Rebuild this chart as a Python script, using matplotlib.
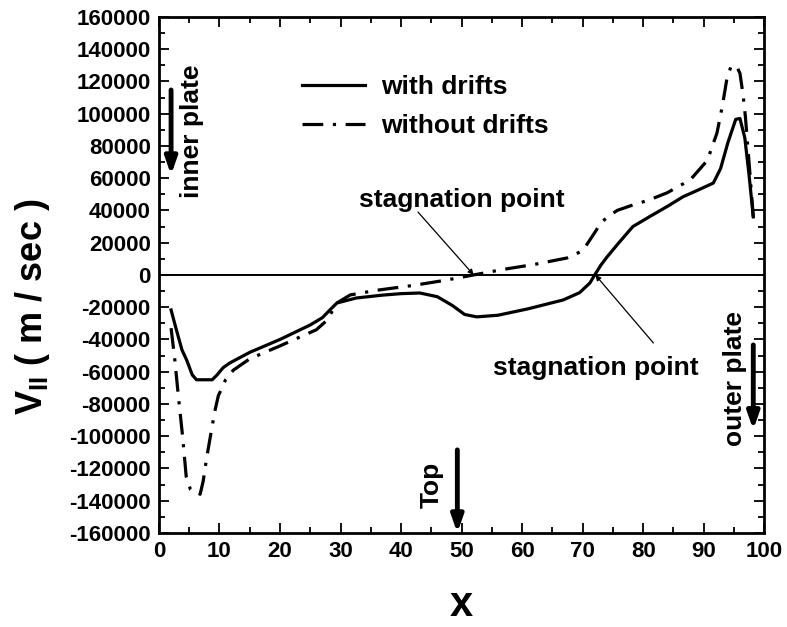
import matplotlib
matplotlib.use('Agg')
import matplotlib.pyplot as plt
import numpy as np
from matplotlib.ticker import MultipleLocator

plt.rcParams['font.family'] = ['Liberation Sans', 'DejaVu Sans']
plt.rcParams['font.weight'] = 'bold'
plt.rcParams['axes.unicode_minus'] = False
plt.rcParams['mathtext.fontset'] = 'custom'
plt.rcParams['mathtext.bf'] = 'Liberation Sans:bold'
plt.rcParams['mathtext.rm'] = 'Liberation Sans:bold'

# parallel velocity along the field line, with drifts
x_drift = [2.0, 2.8, 3.8, 4.6, 5.5, 6.2, 8.8, 9.6, 10.6, 11.7, 15, 20, 25, 27, 28.3, 29.4,
           32.6, 37, 40, 43.1, 46, 48.5, 50.5, 52.5, 56, 61, 66.8, 69.5, 71.2, 72, 73,
           74, 76, 78.3, 81, 84, 86.6, 89, 91.6, 92.8, 94, 95.3, 96, 96.8, 97.5, 98.2]
v_drift = [-21700, -33000, -46500, -53000, -62000, -65000, -65000, -62000, -57500, -54600,
           -48000, -40000, -31000, -26500, -21500, -17400, -14300, -12500, -11600, -11200,
           -13500, -19000, -24500, -26000, -25000, -21000, -15500, -11000, -5000, 0, 6000,
           11000, 20000, 30000, 36000, 42500, 48500, 52500, 57000, 66000, 82000, 96500,
           97000, 85000, 62000, 36000]

# same quantity without drifts
x_nodrift = [2.0, 2.6, 3.2, 3.9, 4.5, 5.2, 5.8, 6.3, 6.8, 7.3, 7.9, 8.5, 9.2, 9.8, 11,
             12.3, 15, 20, 26, 27.8, 29.4, 31.6, 36, 42, 47, 52, 57, 62, 67.4, 70, 71.2,
             72.3, 72.9, 74, 75.7, 78, 81, 84, 87.8, 90.6, 92.2, 93.1, 93.9, 94.5, 94.9,
             95.5, 96, 96.5, 96.9, 97.6, 98.2]
v_nodrift = [-33000, -52000, -75000, -100000, -125000, -133000, -135000, -135000, -136000,
             -128000, -113000, -100000, -85000, -75000, -65000, -59000, -52000, -44000,
             -34000, -28000, -17400, -12400, -9500, -6500, -3500, 0, 3500, 6500, 10500,
             15000, 21700, 28000, 32000, 35500, 40000, 43000, 46500, 51000, 59000, 71000,
             88000, 105000, 123000, 129000, 130000, 129000, 125000, 112000, 98000, 65000,
             36000]

fig = plt.figure(figsize=(7.87, 6.27), dpi=100)
ax = fig.add_axes([0.202, 0.150, 0.769, 0.823])

ax.plot(x_drift, v_drift, color='black', lw=2.3, label='with drifts')
ax.plot(x_nodrift, v_nodrift, color='black', lw=2.3,
        linestyle=(0, (6.5, 3, 1, 3)), label='without drifts')
ax.axhline(0, color='black', lw=1.4)

ax.set_xlim(0, 100)
ax.set_ylim(-160000, 160000)
ax.xaxis.set_major_locator(MultipleLocator(10))
ax.xaxis.set_minor_locator(MultipleLocator(5))
ax.yaxis.set_major_locator(MultipleLocator(20000))
ax.yaxis.set_minor_locator(MultipleLocator(10000))
ax.tick_params(which='both', direction='in', top=True, right=True, width=1.3)
ax.tick_params(which='major', length=7, labelsize=16, pad=6)
ax.tick_params(which='minor', length=4)
for lab in ax.get_xticklabels() + ax.get_yticklabels():
    lab.set_fontweight('bold')
for sp in ax.spines.values():
    sp.set_linewidth(2)

ax.set_xlabel('x', fontsize=30, fontweight='bold', labelpad=16)
fig.text(33 / 787, 1 - 307 / 627, r'V$_{\mathregular{II}}$ ( m / sec )', rotation=90,
         fontsize=26, fontweight='bold', ha='center', va='center')

leg = ax.legend(loc='upper left', bbox_to_anchor=(0.236, 0.887), frameon=False,
                fontsize=19, handlelength=2.4, labelspacing=0.55, borderpad=0,
                borderaxespad=0, handletextpad=0.6)
for t in leg.get_texts():
    t.set_fontweight('bold')

# stagnation point markers
thin = dict(arrowstyle='-|>', color='black', lw=0.9, shrinkA=0, shrinkB=0,
            mutation_scale=8)
ax.text(50.1, 46500, 'stagnation point', fontsize=19, fontweight='bold',
        ha='center', va='center')
ax.annotate('', xy=(52.0, 0), xytext=(42.8, 39000), arrowprops=thin)
ax.text(72.1, -57700, 'stagnation point', fontsize=19, fontweight='bold',
        ha='center', va='center')
ax.annotate('', xy=(72.1, 0), xytext=(81.7, -42200), arrowprops=thin)

# direction arrows toward plates and top
arrow_kw = dict(arrowstyle='-|>,head_width=0.35,head_length=1.0', color='black',
                lw=3.5, mutation_scale=10, shrinkA=0, shrinkB=0)
ax.annotate('', xy=(2, 62000), xytext=(2, 114700), arrowprops=arrow_kw)
ax.text(5.45, 89000, 'inner plate', rotation=90, fontsize=19, fontweight='bold',
        ha='center', va='center')
ax.annotate('', xy=(98.2, -96000), xytext=(98.2, -43400), arrowprops=arrow_kw)
ax.text(95.2, -64000, 'outer plate', rotation=90, fontsize=19, fontweight='bold',
        ha='center', va='center')
ax.annotate('', xy=(49.3, -160000), xytext=(49.3, -108500), arrowprops=arrow_kw)
ax.text(45.1, -130000, 'Top', rotation=90, fontsize=19, fontweight='bold',
        ha='center', va='center')

fig.savefig('out.png', dpi=100)
